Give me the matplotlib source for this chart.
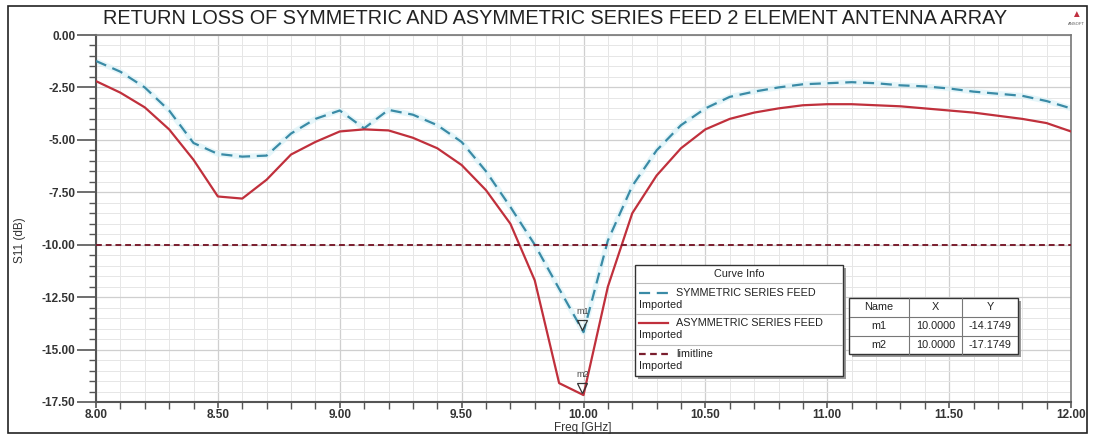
import numpy as np
import matplotlib
matplotlib.use('Agg')
import matplotlib.pyplot as plt
from matplotlib.patches import Rectangle
from matplotlib.ticker import MultipleLocator

plt.rcParams['font.family'] = ['Liberation Sans', 'DejaVu Sans']

# frequency samples (GHz)
freq = [8.0, 8.1, 8.2, 8.3, 8.4, 8.5, 8.6, 8.7, 8.8, 8.9, 9.0, 9.1, 9.2, 9.3, 9.4,
        9.5, 9.6, 9.7, 9.8, 9.9, 10.0, 10.1, 10.2, 10.3, 10.4, 10.5, 10.6, 10.7,
        10.8, 10.9, 11.0, 11.1, 11.2, 11.3, 11.4, 11.5, 11.6, 11.7, 11.8, 11.9, 12.0]
s11_sym = [-1.24, -1.75, -2.5, -3.6, -5.15, -5.67, -5.8, -5.75, -4.7, -4.0, -3.6, -4.45,
           -3.57, -3.8, -4.3, -5.1, -6.5, -8.2, -10.0, -12.1, -14.17, -9.8, -7.2,
           -5.5, -4.3, -3.5, -2.95, -2.7, -2.5, -2.35, -2.3, -2.25, -2.3, -2.4,
           -2.45, -2.55, -2.7, -2.8, -2.9, -3.15, -3.5]
s11_asym = [-2.2, -2.75, -3.45, -4.5, -5.95, -7.7, -7.8, -6.9, -5.7, -5.1, -4.6, -4.5,
            -4.55, -4.9, -5.4, -6.2, -7.4, -9.0, -11.7, -16.6, -17.17, -12.0, -8.5,
            -6.7, -5.4, -4.5, -4.0, -3.7, -3.5, -3.35, -3.3, -3.3, -3.35, -3.4,
            -3.5, -3.6, -3.7, -3.85, -4.0, -4.2, -4.6]
limit = -10.0
marker_names = ['m1', 'm2']
marker_x = [10.0, 10.0]
marker_y = [-14.1749, -17.1749]

W, H = 1094, 437
fig = plt.figure(figsize=(W / 100, H / 100), dpi=100)
fig.patch.set_facecolor('white')

def fx(px):
    return px / W

def fy(py):
    return 1 - py / H

ax = fig.add_axes([fx(96), fy(402), fx(1071) - fx(96), fy(35) - fy(402)])

c_sym = '#3a8ba6'
c_asym = '#c0303c'
c_lim = '#7a1e2e'

ax.plot(freq, s11_sym, color='#d6f1f7', lw=4.0, alpha=0.6, zorder=2)
ax.plot(freq, s11_sym, color=c_sym, lw=1.6, ls=(0, (5, 3)), zorder=3)
ax.plot(freq, s11_asym, color=c_asym, lw=1.6, zorder=3)
ax.axhline(limit, color=c_lim, lw=1.4, ls=(0, (3, 2)), zorder=3)

for nm, mx, my in zip(marker_names, marker_x, marker_y):
    ax.plot(mx - 0.005, my + 0.35, marker='v', ms=7, mfc='none', mec='#333333', mew=0.9, zorder=4)
    ax.text(mx - 0.005, my + 1.0, nm, fontsize=6.5, color='#444444', ha='center', va='center', zorder=4)

ax.set_xlim(8.0, 12.0)
ax.set_ylim(-17.5, 0.0)
ax.xaxis.set_major_locator(MultipleLocator(0.5))
ax.xaxis.set_minor_locator(MultipleLocator(0.1))
ax.yaxis.set_major_locator(MultipleLocator(2.5))
ax.yaxis.set_minor_locator(MultipleLocator(0.5))
ax.xaxis.set_major_formatter(matplotlib.ticker.FormatStrFormatter('%.2f'))
ax.yaxis.set_major_formatter(matplotlib.ticker.FormatStrFormatter('%.2f'))
ax.grid(which='major', color='#cfcfcf', lw=0.9)
ax.grid(which='minor', color='#e6e6e6', lw=0.7)
ax.set_axisbelow(True)
ax.tick_params(which='major', length=14, width=1.2, color='#555555', labelsize=8.5,
               labelcolor='#333333', direction='out', pad=1)
ax.tick_params(which='minor', length=5, width=1.0, color='#555555', direction='out')
ax.tick_params(axis='x', which='major', length=4, pad=1)
for s in ['left', 'bottom']:
    ax.spines[s].set_color('#555555')
    ax.spines[s].set_linewidth(1.5)
for s in ['top', 'right']:
    ax.spines[s].set_color('#777777')
    ax.spines[s].set_linewidth(1.2)

for lab in ax.get_xticklabels():
    lab.set_fontweight('bold')
for lab in ax.get_yticklabels():
    lab.set_fontweight('bold')

fig.text(fx(583), fy(428.5), 'Freq [GHz]', fontsize=8.5, color='#333333', ha='center', va='center')
fig.text(fx(20), fy(240), 'S11 (dB)', fontsize=8.5, color='#333333', ha='center', va='center', rotation=90)
fig.text(fx(555), fy(18), 'RETURN LOSS OF SYMMETRIC AND ASYMMETRIC SERIES FEED 2 ELEMENT ANTENNA ARRAY',
         fontsize=14.3, color='#222222', ha='center', va='center')

# ansoft logo
fig.text(fx(1076), fy(14), '\u25B2', fontsize=7, color='#c03040', ha='center', va='center')
fig.text(fx(1076), fy(24), 'ANSOFT', fontsize=3, color='#555555', ha='center', va='center')

# outer frame
fig.patches.append(Rectangle((fx(8), fy(433)), fx(1087) - fx(8), fy(6) - fy(433),
                             transform=fig.transFigure, fill=False, ec='#222222', lw=1.2))

def box(x0, y0, x1, y1, lw=1.0):
    fig.patches.append(Rectangle((fx(x0 + 3), fy(y1 + 3)), fx(x1 - x0), fy(y0) - fy(y1),
                                 transform=fig.transFigure, fc='#9a9a9a', ec='none', zorder=5))
    fig.patches.append(Rectangle((fx(x0), fy(y1)), fx(x1 - x0), fy(y0) - fy(y1),
                                 transform=fig.transFigure, fc='white', ec='#333333', lw=lw, zorder=6))

def hline(x0, x1, y, color='#bbbbbb'):
    fig.add_artist(plt.Line2D([fx(x0), fx(x1)], [fy(y), fy(y)], transform=fig.transFigure,
                              color=color, lw=0.8, zorder=7))

def vline(x, y0, y1, color='#777777'):
    fig.add_artist(plt.Line2D([fx(x), fx(x)], [fy(y0), fy(y1)], transform=fig.transFigure,
                              color=color, lw=0.8, zorder=7))

# curve info legend
box(635, 265, 843, 376)
fs = 7.8
fig.text(fx(739), fy(274), 'Curve Info', fontsize=fs, color='#222222', ha='center', va='center', zorder=8)
hline(636, 842, 283)
hline(636, 842, 314)
hline(636, 842, 345)
legend_rows = [('SYMMETRIC SERIES FEED', c_sym, (0, (5, 3)), 293),
               ('ASYMMETRIC SERIES FEED', c_asym, '-', 323),
               ('limitline', c_lim, (0, (3, 2)), 354)]
for name, col, ls, yy in legend_rows:
    fig.add_artist(plt.Line2D([fx(639), fx(668)], [fy(yy), fy(yy)], transform=fig.transFigure,
                              color=col, lw=1.6, ls=ls, zorder=8))
    fig.text(fx(676), fy(yy), name, fontsize=fs, color='#222222', ha='left', va='center', zorder=8)
    fig.text(fx(639), fy(yy + 12), 'Imported', fontsize=fs, color='#222222', ha='left', va='center', zorder=8)

# marker table
box(849, 298, 1018, 354)
hline(850, 1017, 317, '#777777')
hline(850, 1017, 336, '#777777')
vline(909, 298, 354)
vline(962, 298, 354)
table_cols = ['Name', 'X', 'Y']
col_cx = [879, 935.5, 990]
for cx, t in zip(col_cx, table_cols):
    fig.text(fx(cx), fy(307), t, fontsize=fs, color='#222222', ha='center', va='center', zorder=8)
for i, (nm, mx, my) in enumerate(zip(marker_names, marker_x, marker_y)):
    yy = 326 + 19 * i
    fig.text(fx(col_cx[0]), fy(yy), nm, fontsize=fs, color='#222222', ha='center', va='center', zorder=8)
    fig.text(fx(col_cx[1]), fy(yy), '%.4f' % mx, fontsize=fs, color='#222222', ha='center', va='center', zorder=8)
    fig.text(fx(col_cx[2]), fy(yy), '%.4f' % my, fontsize=fs, color='#222222', ha='center', va='center', zorder=8)

fig.savefig('out.png', dpi=100, facecolor='white')
